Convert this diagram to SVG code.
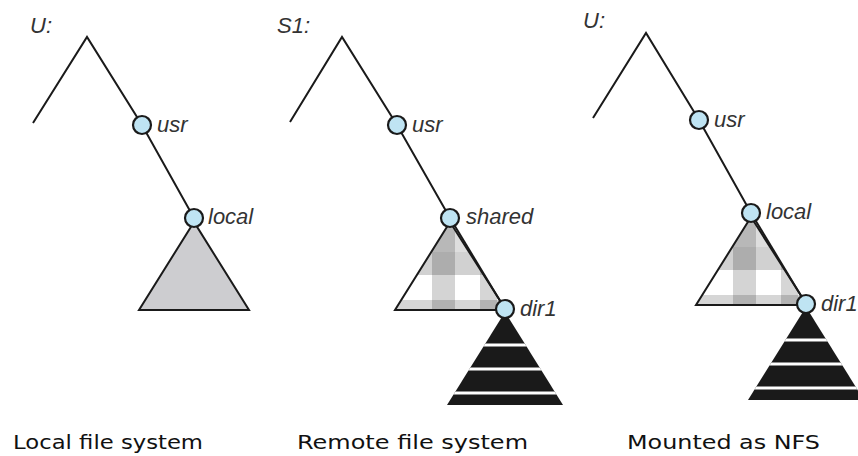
<svg xmlns="http://www.w3.org/2000/svg" width="858" height="456" viewBox="0 0 858 456">
<style>
.edge{fill:none;stroke:#1a1a1a;stroke-width:2}
.node{fill:#bfe4f3;stroke:#1a1a1a;stroke-width:2.2}
.lbl{font-family:"Liberation Sans",Arial,sans-serif;font-style:italic;font-size:22px;fill:#333}
.cap{font-family:"DejaVu Sans",Verdana,sans-serif;font-size:20px;fill:#111}
.tri{stroke:#1a1a1a;stroke-width:2;stroke-linejoin:miter}
.band{fill:#000}
.stripe{stroke:#fff;stroke-width:3}
</style>
<defs>
<clipPath id="triClip"><polygon points="450,222 395,310 506,310"/></clipPath>
<clipPath id="blackClip"><polygon points="505,312 447,405 563,405"/></clipPath>
<g id="plaidTri">
  <g clip-path="url(#triClip)">
    <rect x="390" y="215" width="120" height="100" fill="#fff"/>
    <rect class="band" x="390" y="215" width="120" height="37" opacity="0.13"/>
    <rect class="band" x="390" y="252" width="120" height="23" opacity="0.18"/>
    <rect class="band" x="390" y="300" width="120" height="12" opacity="0.16"/>
    <rect class="band" x="432" y="215" width="23" height="100" opacity="0.17"/>
    <rect class="band" x="480" y="215" width="17" height="100" opacity="0.16"/>
  </g>
  <polygon class="tri" points="450,222 395,310 506,310" fill="none"/>
</g>
<g id="stripedTri">
  <g clip-path="url(#blackClip)">
    <rect x="440" y="305" width="130" height="105" fill="#1a1a1a"/>
    <line class="stripe" x1="440" y1="345" x2="570" y2="345"/>
    <line class="stripe" x1="440" y1="369" x2="570" y2="369"/>
    <line class="stripe" x1="440" y1="393" x2="570" y2="393"/>
  </g>
</g>
</defs>

<rect width="858" height="456" fill="#fff"/>

<!-- Panel 1: Local file system -->
<g id="panel1">
  <text class="lbl" x="30" y="33">U:</text>
  <polygon id="localTree" class="tri" points="194,222 139,310 249,310" fill="#cdcdd0"/>
</g>
<!-- Panel 2: Remote file system -->
<g id="panel2">
  <text class="lbl" x="277" y="33">S1:</text>
  <use href="#plaidTri"/>
  <use href="#stripedTri"/>
</g>
<!-- Panel 3: Mounted as NFS -->
<g id="panel3">
  <text class="lbl" x="583" y="28">U:</text>
  <use href="#plaidTri" transform="translate(301,-5)"/>
  <use href="#stripedTri" transform="translate(301,-5)"/>
</g>

<g id="connectors">
  <polyline class="edge" points="33,123 87,37 142,125 194,218"/>
  <polyline class="edge" points="290,122 342,37 397,125 450,218"/>
  <polyline class="edge" points="593,118 646,33 699,120 751,213"/>
  <line class="edge" x1="450" y1="218" x2="505" y2="309"/>
  <line class="edge" x1="751" y1="213" x2="806" y2="304"/>
</g>

<g id="n1-usr"><circle class="node" cx="142" cy="125" r="9"/><text class="lbl" x="157" y="132">usr</text></g>
<g id="n1-local"><circle class="node" cx="194" cy="218" r="9"/><text class="lbl" x="208" y="224">local</text></g>

<g id="n2-usr"><circle class="node" cx="397" cy="125" r="9"/><text class="lbl" x="412" y="132">usr</text></g>
<g id="n2-shared"><circle class="node" cx="450" cy="218" r="9"/><text class="lbl" x="466" y="224">shared</text></g>
<g id="n2-dir1"><circle class="node" cx="505" cy="309" r="9"/><text class="lbl" x="520" y="316">dir1</text></g>

<g id="n3-usr"><circle class="node" cx="699" cy="120" r="9"/><text class="lbl" x="714" y="127">usr</text></g>
<g id="n3-local"><circle class="node" cx="751" cy="213" r="9"/><text class="lbl" x="766" y="219">local</text></g>
<g id="n3-dir1"><circle class="node" cx="806" cy="304" r="9"/><text class="lbl" x="821" y="311">dir1</text></g>

<g id="captions">
  <text class="cap" x="13" y="449" textLength="190" lengthAdjust="spacingAndGlyphs">Local file system</text>
  <text class="cap" x="297" y="449" textLength="231" lengthAdjust="spacingAndGlyphs">Remote file system</text>
  <text class="cap" x="627" y="449" textLength="193" lengthAdjust="spacingAndGlyphs">Mounted as NFS</text>
</g>
</svg>
